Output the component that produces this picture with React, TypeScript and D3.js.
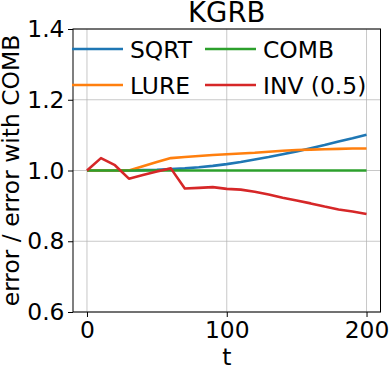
import React, { useEffect, useRef } from 'react';
import * as d3 from 'd3';

const steps = [0, 10, 20, 30, 40, 50, 60, 70, 80, 90, 100, 110, 120, 130, 140, 150, 160, 170, 180, 190, 200];
const sqrt = [1.0, 1.0, 1.0, 1.0, 1.001, 1.002, 1.004, 1.006, 1.009, 1.013, 1.018, 1.024, 1.031, 1.038, 1.046, 1.054, 1.063, 1.072, 1.082, 1.091, 1.101];
const lure = [1.0, 1.0, 1.0, 1.0, 1.012, 1.024, 1.035, 1.038, 1.041, 1.044, 1.046, 1.048, 1.05, 1.053, 1.056, 1.058, 1.059, 1.06, 1.061, 1.062, 1.062];
const comb = [1, 1, 1, 1, 1, 1, 1, 1, 1, 1, 1, 1, 1, 1, 1, 1, 1, 1, 1, 1, 1];
const inv = [1.0, 1.035, 1.015, 0.977, 0.987, 0.997, 1.006, 0.949, 0.951, 0.953, 0.948, 0.946, 0.94, 0.932, 0.923, 0.915, 0.907, 0.898, 0.89, 0.884, 0.877];

const seriesNames = ['SQRT', 'LURE', 'COMB', 'INV (0.5)'];
const seriesColors = ['#1f77b4', '#ff7f0e', '#2ca02c', '#d62728'];
const xTicks = [0, 100, 200];
const yTicks = [0.6, 0.8, 1.0, 1.2, 1.4];

const width = 391;
const height = 366;
const font = 'DejaVu Sans, sans-serif';
const fs = 23.4;

export default function App() {
  const ref = useRef<SVGSVGElement>(null);

  useEffect(() => {
    const svg = d3.select(ref.current);
    svg.selectAll('*').remove();

    const margin = { top: 29, right: 10.5, bottom: 54, left: 73 };
    const w = width - margin.left - margin.right;
    const h = height - margin.top - margin.bottom;

    const x = d3.scaleLinear().domain([-10, 210]).range([0, w]);
    const y = d3.scaleLinear().domain([0.6, 1.4]).range([h, 0]);

    const g = svg.append('g').attr('transform', `translate(${margin.left},${margin.top})`);

    // grid
    g.selectAll('.gx').data(xTicks).join('line')
      .attr('x1', d => x(d)).attr('x2', d => x(d))
      .attr('y1', 0).attr('y2', h)
      .attr('stroke', '#b0b0b0').attr('stroke-opacity', 0.7).attr('stroke-width', 1);
    g.selectAll('.gy').data(yTicks).join('line')
      .attr('x1', 0).attr('x2', w)
      .attr('y1', d => y(d)).attr('y2', d => y(d))
      .attr('stroke', '#b0b0b0').attr('stroke-opacity', 0.7).attr('stroke-width', 1);

    const all = [sqrt, lure, comb, inv];
    const line = d3.line<number>().x((_, i) => x(steps[i])).y(d => y(d));
    all.forEach((vals, k) => {
      g.append('path')
        .datum(vals)
        .attr('d', line)
        .attr('fill', 'none')
        .attr('stroke', seriesColors[k])
        .attr('stroke-width', 2.6)
        .attr('stroke-linejoin', 'round');
    });

    // axes
    const xAxis = d3.axisBottom(x).tickValues(xTicks).tickSize(5).tickPadding(4.5).tickFormat(d3.format('d'));
    const yAxis = d3.axisLeft(y).tickValues(yTicks).tickSize(5).tickPadding(3.5).tickFormat(d3.format('.1f'));

    const gx = g.append('g').attr('transform', `translate(0,${h})`).call(xAxis);
    const gy = g.append('g').call(yAxis);
    [gx, gy].forEach(a => {
      a.select('.domain').remove();
      a.selectAll('line').attr('stroke', '#000').attr('stroke-width', 1);
      a.selectAll('text').attr('font-family', font).attr('font-size', fs).attr('fill', '#000');
    });

    g.append('rect')
      .attr('width', w).attr('height', h)
      .attr('fill', 'none').attr('stroke', '#000').attr('stroke-width', 1);

    // labels
    svg.append('text')
      .attr('x', margin.left + w / 2).attr('y', 22)
      .attr('text-anchor', 'middle')
      .attr('font-family', font).attr('font-size', 27.5)
      .text('KGRB');
    svg.append('text')
      .attr('x', margin.left + w / 2).attr('y', 364.5)
      .attr('text-anchor', 'middle')
      .attr('font-family', font).attr('font-size', fs)
      .text('t');
    svg.append('text')
      .attr('transform', `translate(18.5,${margin.top + h / 2}) rotate(-90)`)
      .attr('text-anchor', 'middle')
      .attr('font-family', font).attr('font-size', fs)
      .text('error / error with COMB');

    // legend, two columns
    const legendOrder = [0, 2, 1, 3];
    legendOrder.forEach((k, i) => {
      const col = i % 2;
      const row = Math.floor(i / 2);
      const lx = 72 + col * 133;
      const ly = 49 + row * 36;
      svg.append('line')
        .attr('x1', lx).attr('x2', lx + 51)
        .attr('y1', ly).attr('y2', ly)
        .attr('stroke', seriesColors[k]).attr('stroke-width', 2.6);
      svg.append('text')
        .attr('x', lx + 58).attr('y', ly + 8.5)
        .attr('font-family', font).attr('font-size', fs)
        .text(seriesNames[k]);
    });
  }, []);

  return (
    <svg ref={ref} width={width} height={height}
      style={{ position: 'absolute', left: 0, top: 0, background: '#fff' }} />
  );
}
